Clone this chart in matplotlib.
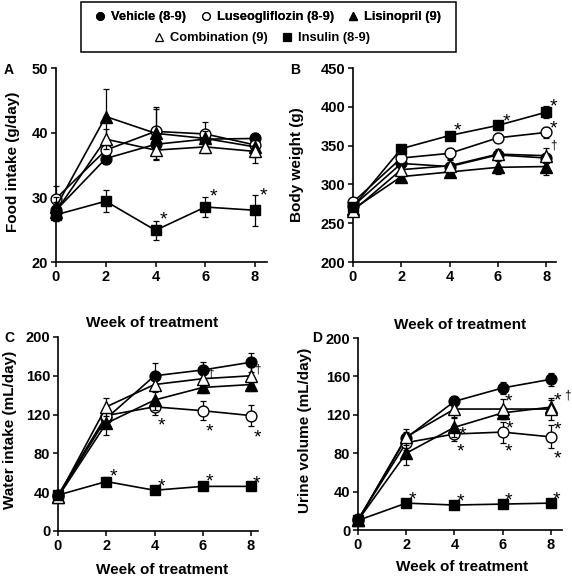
import matplotlib
matplotlib.use('Agg')
import matplotlib.pyplot as plt
from matplotlib.lines import Line2D
from matplotlib.patches import Rectangle

plt.rcParams['font.family'] = ['Liberation Sans', 'DejaVu Sans']
plt.rcParams['font.weight'] = 'bold'

weeks = [0, 2, 4, 6, 8]
groups = ['Vehicle (8-9)', 'Luseogliflozin (8-9)', 'Lisinopril (9)', 'Combination (9)', 'Insulin (8-9)']

# A: food intake (g/day)
food_veh = [28.0, 36.0, 38.2, 39.0, 39.1]
food_lus = [29.8, 37.3, 40.2, 39.8, 38.1]
food_lis = [28.5, 42.5, 39.9, 39.1, 37.8]
food_com = [27.8, 39.0, 37.3, 37.8, 37.1]
food_ins = [27.3, 29.4, 24.9, 28.5, 28.0]
food_veh_err = [1.0, 0.8, 1.5, 1.0, 0.8]
food_lus_err = [2.0, 1.0, 3.5, 1.8, 1.5]
food_lis_err = [1.5, 4.3, 4.0, 1.2, 1.5]
food_com_err = [1.5, 1.5, 1.5, 1.0, 1.8]
food_ins_err = [1.0, 1.7, 1.5, 1.5, 2.4]

# B: body weight (g)
bw_veh = [272, 327, 323, 338, 334]
bw_lus = [277, 334, 340, 360, 367]
bw_lis = [268, 310, 316, 322, 323]
bw_com = [266, 319, 324, 339, 337]
bw_ins = [271, 346, 363, 376, 393]
bw_veh_err = [5, 5, 5, 5, 5]
bw_lus_err = [5, 5, 7, 6, 7]
bw_lis_err = [5, 6, 7, 8, 11]
bw_com_err = [5, 5, 7, 7, 10]
bw_ins_err = [5, 5, 5, 6, 8]

# C: water intake (mL/day)
wi_veh = [36, 116, 160, 166, 174]
wi_lus = [37, 119, 128, 124, 119]
wi_lis = [35, 111, 135, 148, 151]
wi_com = [35, 128, 151, 157, 160]
wi_ins = [37, 51, 42, 46, 46]
wi_veh_err = [3, 8, 13, 8, 10]
wi_lus_err = [3, 8, 8, 10, 11]
wi_lis_err = [3, 12, 10, 6, 7]
wi_com_err = [3, 9, 8, 8, 9]
wi_ins_err = [3, 5, 3, 3, 3]

# D: urine volume (mL/day)
uv_veh = [10, 96, 134, 148, 157]
uv_lus = [11, 91, 100, 102, 97]
uv_lis = [10, 80, 107, 122, 128]
uv_com = [10, 97, 126, 126, 126]
uv_ins = [10, 28, 26, 27, 28]
uv_veh_err = [2, 6, 6, 6, 7]
uv_lus_err = [2, 8, 7, 11, 12]
uv_lis_err = [2, 12, 10, 6, 7]
uv_com_err = [2, 8, 8, 10, 11]
uv_ins_err = [2, 2, 2, 2, 2]

# significance marks (x, y, symbol)
marks_A = [(4.31, 27.3, '*'), (6.32, 30.9, '*'), (8.33, 31.1, '*')]
marks_B = [(4.31, 375.6, '*'), (6.34, 387.2, '*'), (8.29, 406.6, '*'),
           (8.29, 378.5, '*'), (8.29, 350.5, '\u2020')]
marks_C = [(2.29, 61.9, '*'), (4.27, 51.5, '*'), (6.26, 56.0, '*'), (8.24, 54.3, '*'),
           (4.30, 114.4, '*'), (6.27, 108.2, '*'), (8.26, 101.8, '*'),
           (6.33, 161.9, '\u2020'), (8.28, 166.0, '\u2020')]
marks_D = [(2.27, 37.5, '*'), (4.26, 34.7, '*'), (6.23, 36.5, '*'), (8.24, 37.5, '*'),
           (4.34, 104.9, '*'), (4.26, 87.5, '*'), (6.26, 138.9, '*'), (6.30, 111.1, '*'),
           (6.26, 86.8, '*'), (8.28, 140.6, '*'), (8.28, 110.4, '*'), (8.28, 79.9, '*'),
           (8.69, 140.6, '\u2020')]

styles = [
    dict(marker='o', mfc='black', ms=7.8),
    dict(marker='o', mfc='white', ms=7.8),
    dict(marker='^', mfc='black', ms=8.8),
    dict(marker='^', mfc='white', ms=8.8),
    dict(marker='s', mfc='black', ms=7.8),
]

W, H = 572, 581
fig = plt.figure(figsize=(W / 100, H / 100), dpi=100)


def px_axes(l, r, t, b):
    return fig.add_axes([l / W, 1 - b / H, (r - l) / W, (b - t) / H])


def panel(ax, series, errs, ylim, yticks, xmax, marks, ylabel):
    for i, (vals, err) in enumerate(zip(series, errs)):
        st = styles[i]
        ax.errorbar(weeks, vals, yerr=err, fmt='none', ecolor='black', elinewidth=0.9,
                    capsize=2.2, capthick=0.9, zorder=2 + i, clip_on=False)
        ax.plot(weeks, vals, color='black', lw=1.2, marker=st['marker'], ms=st['ms'],
                mfc=st['mfc'], mec='black', mew=1.0, zorder=3 + i, clip_on=False)
    ax.set_xlim(0, xmax)
    ax.set_ylim(*ylim)
    ax.set_xticks(weeks)
    ax.set_yticks(yticks)
    for s in ['top', 'right']:
        ax.spines[s].set_visible(False)
    for s in ['left', 'bottom']:
        ax.spines[s].set_linewidth(1.2)
    ax.tick_params(direction='out', length=3.5, width=1.1, labelsize=10.5, pad=2)
    for lab in ax.get_xticklabels() + ax.get_yticklabels():
        lab.set_fontweight('bold')
    for x, y, sym in marks:
        if sym == '*':
            # asterisk glyph sits high in the em box, so drop the baseline to centre it
            ax.annotate(sym, (x, y), xytext=(0, -0.52 * 14), textcoords='offset points',
                        ha='center', va='baseline', fontsize=14, fontweight='normal', zorder=20)
        else:
            ax.text(x, y, sym, ha='center', va='center', fontsize=8.5, fontweight='normal', zorder=20)
    ax.set_ylabel(ylabel, fontsize=11, fontweight='bold', va='center', ha='center')


axA = px_axes(56, 267, 68, 262)
panel(axA, [food_veh, food_lus, food_lis, food_com, food_ins],
      [food_veh_err, food_lus_err, food_lis_err, food_com_err, food_ins_err],
      (20, 50), [20, 30, 40, 50], 8.48, marks_A, 'Food intake (g/day)')
axA.yaxis.set_label_coords((13 - 56) / 211, (262 - 162) / 194)

axB = px_axes(353, 556, 68, 262)
panel(axB, [bw_veh, bw_lus, bw_lis, bw_com, bw_ins],
      [bw_veh_err, bw_lus_err, bw_lis_err, bw_com_err, bw_ins_err],
      (200, 450), [200, 250, 300, 350, 400, 450], 8.41, marks_B, 'Body weight (g)')
axB.yaxis.set_label_coords((297 - 353) / 203, (262 - 165) / 194)

axC = px_axes(58, 258, 337, 531)
panel(axC, [wi_veh, wi_lus, wi_lis, wi_com, wi_ins],
      [wi_veh_err, wi_lus_err, wi_lis_err, wi_com_err, wi_ins_err],
      (0, 200), [0, 40, 80, 120, 160, 200], 8.29, marks_C, 'Water intake (mL/day)')
axC.yaxis.set_label_coords((10 - 58) / 200, (531 - 430) / 194)

axD = px_axes(358, 562, 338, 530)
panel(axD, [uv_veh, uv_lus, uv_lis, uv_com, uv_ins],
      [uv_veh_err, uv_lus_err, uv_lis_err, uv_com_err, uv_ins_err],
      (0, 200), [0, 40, 80, 120, 160, 200], 8.46, marks_D, 'Urine volume (mL/day)')
axD.yaxis.set_label_coords((305 - 358) / 204, (530 - 430) / 192)

# x labels and panel letters
for x, y in [(152, 323), (460, 325), (162, 570), (462, 567)]:
    fig.text(x / W, 1 - y / H, 'Week of treatment', ha='center', va='center',
             fontsize=11, fontweight='bold')
for x, y, t in [(9, 70, 'A'), (295, 70, 'B'), (9, 338, 'C'), (317, 338, 'D')]:
    fig.text(x / W, 1 - y / H, t, ha='center', va='center', fontsize=10, fontweight='bold')

# legend: two centred rows inside one box
handles = [Line2D([], [], color='black', lw=0, marker=s['marker'], mfc=s['mfc'], mec='black',
                  mew=0.9, ms=s['ms'] * 0.7) for s in styles]
kw = dict(frameon=False, handlelength=0.8, handletextpad=0.45, columnspacing=1.1,
          borderpad=0, borderaxespad=0, prop={'weight': 'bold', 'size': 9.3})
leg1 = fig.legend(handles[:3], groups[:3], ncol=3, loc='center',
                  bbox_to_anchor=(268 / W, 1 - 17 / H), **kw)
fig.add_artist(leg1)
leg2 = fig.legend(handles[3:], groups[3:], ncol=2, loc='center',
                  bbox_to_anchor=(262 / W, 1 - 38 / H), **kw)
fig.patches.append(Rectangle((81 / W, 1 - 52 / H), (456 - 81) / W, 50 / H, transform=fig.transFigure,
                             fill=False, edgecolor='black', lw=1.1))

fig.savefig('out.png', dpi=100)
